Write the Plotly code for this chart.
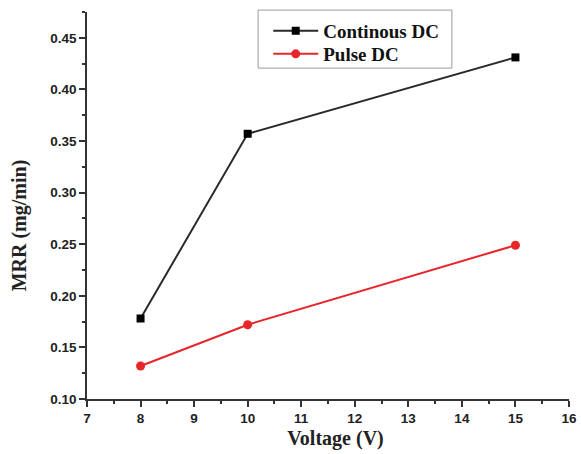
import plotly.graph_objects as go

voltage = [8, 10, 15]
continuous_dc = [0.178, 0.357, 0.431]
pulse_dc = [0.132, 0.172, 0.249]

fig = go.Figure()
fig.add_trace(go.Scatter(
    x=voltage, y=continuous_dc, mode="lines+markers", name="<b>Continous DC</b>",
    line=dict(color="#2a2a2a", width=2),
    marker=dict(symbol="square", size=8, color="#000000"),
    legend="legend",
))
fig.add_trace(go.Scatter(
    x=voltage, y=pulse_dc, mode="lines+markers", name="<b>Pulse DC</b>",
    line=dict(color="#e8262a", width=2),
    marker=dict(symbol="circle", size=9, color="#e8262a"),
    legend="legend2",
))

tickfont = dict(family="Liberation Sans, Arial", size=13.5, color="#222", weight="bold")
titlefont = dict(family="Liberation Serif, Times New Roman", size=20, color="#222", weight="bold")
legfont = dict(family="Liberation Serif, Times New Roman", size=19, color="#111", weight="bold")

leg_common = dict(xanchor="left", yanchor="top",
                  bgcolor="rgba(0,0,0,0)", borderwidth=0, font=legfont, itemwidth=45)

fig.update_layout(
    width=581, height=454,
    margin=dict(l=87, r=12, t=12, b=55),
    paper_bgcolor="white", plot_bgcolor="white",
    showlegend=True,
    legend=dict(x=0.376, y=1.0, **leg_common),
    legend2=dict(x=0.376, y=0.9406, **leg_common),
    shapes=[dict(type="rect", xref="paper", yref="paper",
                 x0=0.355, x1=0.757, y0=0.855, y1=1.005,
                 line=dict(color="#9a9a9a", width=1), fillcolor="rgba(0,0,0,0)",
                 layer="below")],
)
fig.update_xaxes(
    range=[7, 16], dtick=1, tick0=7, automargin=False,
    showline=True, linecolor="#333", linewidth=1.5, mirror=False,
    showgrid=False, zeroline=False,
    ticks="outside", ticklen=6, tickwidth=1.5, tickcolor="#333",
    minor=dict(ticks="outside", ticklen=3, dtick=0.5, tickcolor="#333", showgrid=False),
    tickfont=tickfont,
    title=dict(text="&nbsp;&nbsp;&nbsp;Voltage (V)", font=titlefont, standoff=6),
)
fig.update_yaxes(
    range=[0.10, 0.475], dtick=0.05, tick0=0.10, tickformat=".2f", automargin=False,
    showline=True, linecolor="#333", linewidth=1.5, mirror=False,
    showgrid=False, zeroline=False,
    ticks="outside", ticklen=6, tickwidth=1.5, tickcolor="#333",
    minor=dict(ticks="outside", ticklen=3, dtick=0.025, tickcolor="#333", showgrid=False),
    tickfont=tickfont,
    title=dict(text="MRR (mg/min)" + "&nbsp;" * 8, font=titlefont, standoff=18),
)

fig.write_html(
    "out.html",
    config={"displayModeBar": False},
    post_script="document.body.style.margin='0';document.body.style.overflow='hidden';",
)
